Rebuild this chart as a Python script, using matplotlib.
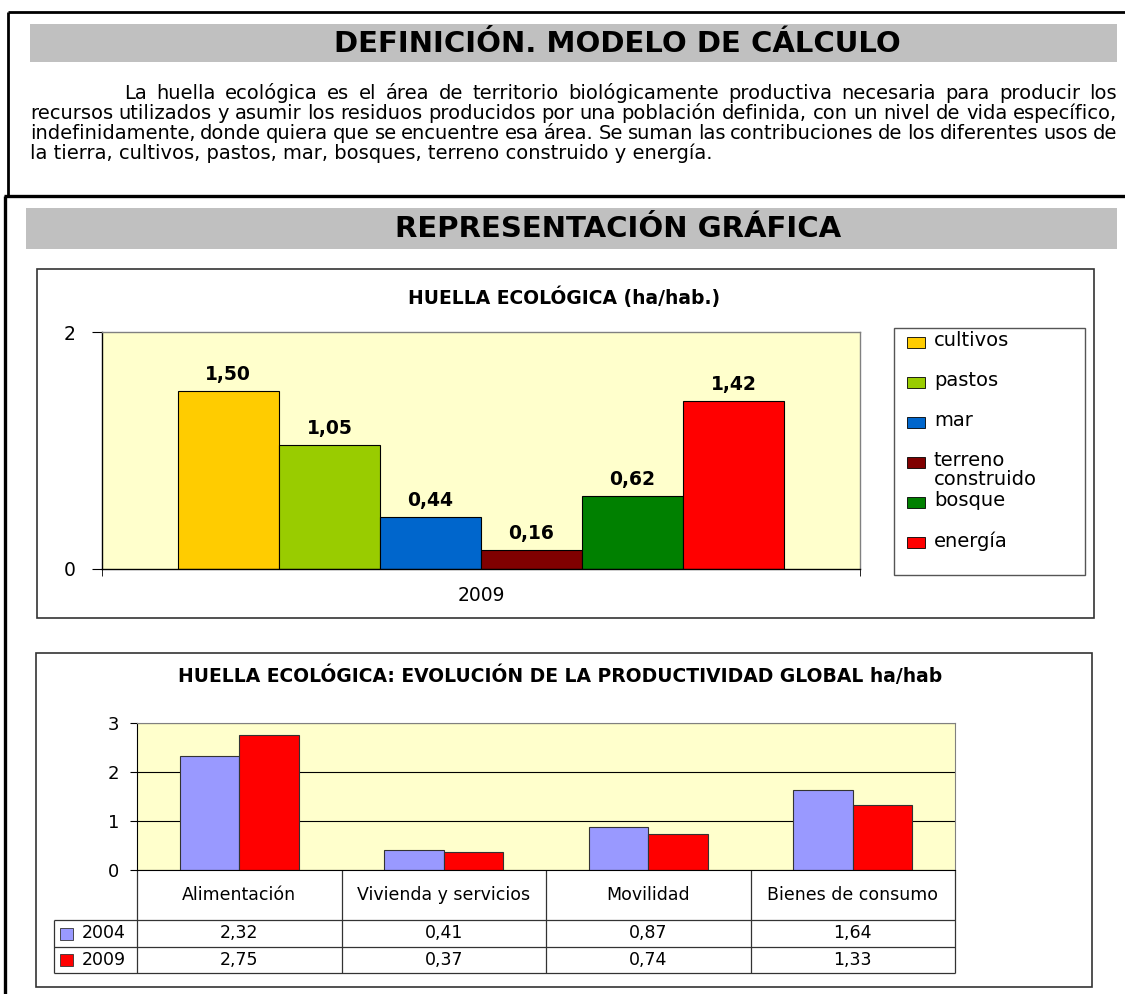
"""Ficha de indicador: huella ecológica (definición y gráficos)."""

import matplotlib
matplotlib.use("Agg")
import matplotlib.pyplot as plt
import numpy as np
from matplotlib.patches import Rectangle

W, H = 1125, 994

# --- datos ---
usos = ["cultivos", "pastos", "mar", "terreno construido", "bosque", "energía"]
huella_2009 = [1.50, 1.05, 0.44, 0.16, 0.62, 1.42]
colores_usos = ["#FFCC00", "#99CC00", "#0066CC", "#800000", "#008000", "#FF0000"]
anio_huella = "2009"

sectores = ["Alimentación", "Vivienda y servicios", "Movilidad", "Bienes de consumo"]
anios = ["2004", "2009"]
sector_2004 = [2.32, 0.41, 0.87, 1.64]
sector_2009 = [2.75, 0.37, 0.74, 1.33]
colores_anios = ["#9999FF", "#FF0000"]

titulo_def = "DEFINICIÓN. MODELO DE CÁLCULO"
titulo_rep = "REPRESENTACIÓN GRÁFICA"
titulo_g1 = "HUELLA ECOLÓGICA (ha/hab.)"
titulo_g2 = "HUELLA ECOLÓGICA: EVOLUCIÓN DE LA PRODUCTIVIDAD GLOBAL ha/hab"
parrafo = [
    "La huella ecológica es el área de territorio biológicamente productiva necesaria para producir los",
    "recursos utilizados y asumir los residuos producidos por una población definida, con un nivel de vida específico,",
    "indefinidamente, donde quiera que se encuentre esa área. Se suman las contribuciones de los diferentes usos de",
    "la tierra, cultivos, pastos, mar, bosques, terreno construido y energía.",
]

plt.rcParams["font.family"] = ["DejaVu Sans"]


def fmt(v):
    return f"{v:.2f}".replace(".", ",")


fig = plt.figure(figsize=(W / 100, H / 100), dpi=100)
renderer = fig.canvas.get_renderer()

# lienzo en píxeles para marcos, cabeceras y texto
canvas = fig.add_axes([0, 0, 1, 1])
canvas.set_xlim(0, W)
canvas.set_ylim(H, 0)
canvas.set_autoscale_on(False)
canvas.axis("off")


def axes_px(x0, y0, x1, y1):
    return fig.add_axes([x0 / W, 1 - y1 / H, (x1 - x0) / W, (y1 - y0) / H])


def line(xs, ys, lw, color="black"):
    canvas.plot(xs, ys, color=color, lw=lw, solid_capstyle="butt")


def justify(text, x0, x1, y, **kw):
    words = text.split()
    items = [canvas.text(0, y, w, va="baseline", **kw) for w in words]
    widths = [t.get_window_extent(renderer).width for t in items]
    gap = (x1 - x0 - sum(widths)) / (len(words) - 1)
    x = x0
    for t, w in zip(items, widths):
        t.set_x(x)
        x += w + gap


# marcos del documento
line([8, W], [12, 12], 2.0)
line([8, 8], [12, 196], 2.0)
line([4, W], [196, 196], 2.4)
line([5, 5], [196, H], 2.4)

# cabeceras grises
canvas.add_patch(Rectangle((30, 24), 1087, 38, fc="#C0C0C0", ec="none"))
canvas.text(617, 44, titulo_def, ha="center", va="center", fontsize=21, fontweight="bold")
canvas.add_patch(Rectangle((26, 208), 1091, 41, fc="#C0C0C0", ec="none"))
canvas.text(618, 229, titulo_rep, ha="center", va="center", fontsize=21, fontweight="bold")

# párrafo justificado
base = 99
for i, txt in enumerate(parrafo):
    y = base + 20 * i
    if i == len(parrafo) - 1:
        canvas.text(30, y, txt, va="baseline", fontsize=14)
    else:
        justify(txt, 124 if i == 0 else 30, 1117, y, fontsize=14)

# ---------------- gráfico 1 ----------------
canvas.add_patch(Rectangle((37, 269), 1057, 349, fc="white", ec="#333333", lw=1.2))
canvas.text(564, 297, titulo_g1, ha="center", va="center", fontsize=13.5, fontweight="bold")

ax1 = axes_px(102, 332, 860, 569)
ax1.set_facecolor("#FFFFCC")
n = len(usos)
bw = 0.8 / n
xpos = (np.arange(n) - (n - 1) / 2) * bw
bars = ax1.bar(xpos, huella_2009, width=bw, color=colores_usos,
               edgecolor="black", linewidth=0.8)
ax1.bar_label(bars, labels=[fmt(v) for v in huella_2009], padding=5,
              fontsize=13.5, fontweight="bold")
ax1.set_xlim(-0.5, 0.5)
ax1.set_ylim(0, 2)
ax1.set_yticks([0, 2], ["0", "2"])
ax1.set_xticks([0], [anio_huella])
ax1.set_xticks([-0.5, 0.5], minor=True)
ax1.tick_params(axis="x", which="major", length=0, pad=12, labelsize=13.5)
ax1.tick_params(axis="x", which="minor", length=5, direction="out")
ax1.tick_params(axis="y", length=7, pad=12, labelsize=13.5)
for side in ("top", "right"):
    ax1.spines[side].set_color("#808080")
for sp in ax1.spines.values():
    sp.set_linewidth(1.0)

# leyenda
canvas.add_patch(Rectangle((894, 328), 191, 247, fc="white", ec="#555555", lw=1.0))
for i, (nombre, col) in enumerate(zip(usos, colores_usos)):
    yc = 342 + 40 * i
    canvas.add_patch(Rectangle((907, yc - 5.5), 18, 11, fc=col, ec="black", lw=0.6))
    etiqueta = nombre.replace(" ", "\n") if len(nombre) > 12 else nombre
    canvas.text(934, yc - 10.5, etiqueta, va="top", ha="left", fontsize=14,
                linespacing=0.95)

# ---------------- gráfico 2 ----------------
canvas.add_patch(Rectangle((36, 653), 1056, 334, fc="white", ec="#333333", lw=1.2))
canvas.text(560, 676, titulo_g2, ha="center", va="center", fontsize=13.5, fontweight="bold")

ax2 = axes_px(137, 723, 955, 870)
ax2.set_facecolor("#FFFFCC")
xs = np.arange(len(sectores))
bw2 = 0.29
for k, (vals, col) in enumerate(zip([sector_2004, sector_2009], colores_anios)):
    ax2.bar(xs + (k - 0.5) * bw2, vals, width=bw2, color=col,
            edgecolor="#333333", linewidth=0.8)
ax2.set_xlim(-0.5, len(sectores) - 0.5)
ax2.set_ylim(0, 3)
ax2.set_yticks([0, 1, 2, 3])
ax2.set_xticks([])
ax2.yaxis.grid(True, color="black", lw=0.8)
ax2.set_axisbelow(True)
ax2.tick_params(axis="y", length=5, pad=8, labelsize=13)
for side in ("top", "right"):
    ax2.spines[side].set_color("#808080")

# tabla de datos bajo el eje
edges = [ax2.transData.transform((e, 0))[0] for e in np.arange(len(sectores) + 1) - 0.5]
centers = [ax2.transData.transform((c, 0))[0] for c in xs]
y_axis, y_r1, y_r2, y_end = 870, 920, 947, 973
tcol = "#333333"
for e in edges:
    line([e, e], [y_axis, y_end], 0.9, tcol)
line([54, 54], [y_r1, y_end], 0.9, tcol)
for yy in (y_r1, y_r2, y_end):
    line([54, edges[-1]], [yy, yy], 0.9, tcol)
for c, nombre in zip(centers, sectores):
    canvas.text(c, (y_axis + y_r1) / 2, nombre, ha="center", va="center", fontsize=12.5)
for (anio, vals, col), (ya, yb) in zip(
        zip(anios, [sector_2004, sector_2009], colores_anios),
        [(y_r1, y_r2), (y_r2, y_end)]):
    ym = (ya + yb) / 2
    canvas.add_patch(Rectangle((60, ym - 6), 13, 12, fc=col, ec="#333333", lw=0.6))
    canvas.text(82, ym, anio, va="center", ha="left", fontsize=12.5)
    for c, v in zip(centers, vals):
        canvas.text(c, ym, fmt(v), ha="center", va="center", fontsize=12.5)

fig.savefig("out.png", dpi=100)
plt.close(fig)
